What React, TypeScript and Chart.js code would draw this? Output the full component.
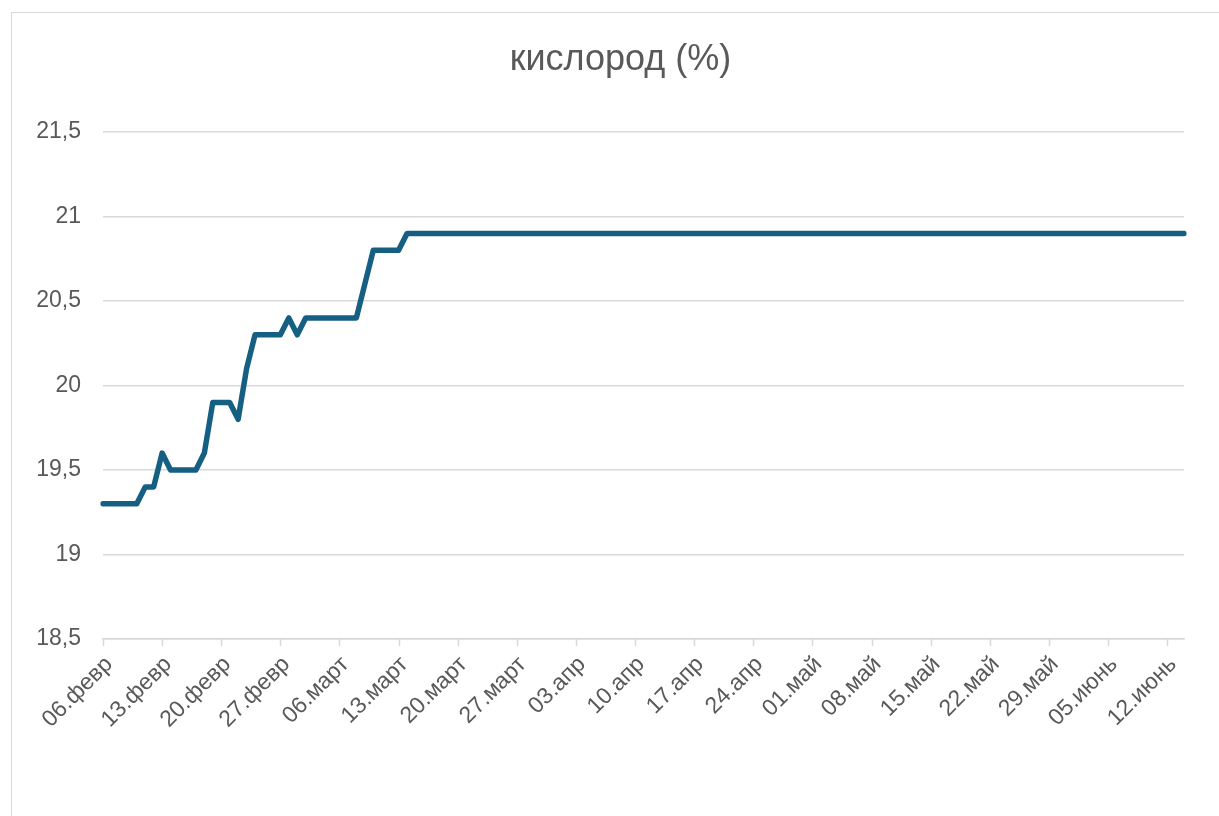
import React, { useEffect, useRef } from 'react';
import { Chart, registerables } from 'chart.js';

Chart.register(...registerables);

const TITLE = 'кислород (%)';
const MONTHS = ['февр', 'март', 'апр', 'май', 'июнь'];
const MONTH_LENGTHS = [28, 31, 30, 31, 30];
const START_DAY = 6;
const TICK_EVERY = 7;
const Y_MIN = 18.5;
const Y_MAX = 21.5;
const Y_STEP = 0.5;

const OXYGEN = [
  19.3, 19.3, 19.3, 19.3, 19.3, 19.4, 19.4, 19.6, 19.5, 19.5,
  19.5, 19.5, 19.6, 19.9, 19.9, 19.9, 19.8, 20.1, 20.3, 20.3,
  20.3, 20.3, 20.4, 20.3, 20.4, 20.4, 20.4, 20.4, 20.4, 20.4,
  20.4, 20.6, 20.8, 20.8, 20.8, 20.8, 20.9, 20.9, 20.9, 20.9,
  20.9, 20.9, 20.9, 20.9, 20.9, 20.9, 20.9, 20.9, 20.9, 20.9,
  20.9, 20.9, 20.9, 20.9, 20.9, 20.9, 20.9, 20.9, 20.9, 20.9,
  20.9, 20.9, 20.9, 20.9, 20.9, 20.9, 20.9, 20.9, 20.9, 20.9,
  20.9, 20.9, 20.9, 20.9, 20.9, 20.9, 20.9, 20.9, 20.9, 20.9,
  20.9, 20.9, 20.9, 20.9, 20.9, 20.9, 20.9, 20.9, 20.9, 20.9,
  20.9, 20.9, 20.9, 20.9, 20.9, 20.9, 20.9, 20.9, 20.9, 20.9,
  20.9, 20.9, 20.9, 20.9, 20.9, 20.9, 20.9, 20.9, 20.9, 20.9,
  20.9, 20.9, 20.9, 20.9, 20.9, 20.9, 20.9, 20.9, 20.9, 20.9,
  20.9, 20.9, 20.9, 20.9, 20.9, 20.9, 20.9, 20.9, 20.9,
];

function buildDateLabels(count: number): string[] {
  const out: string[] = [];
  let m = 0;
  let d = START_DAY;
  for (let i = 0; i < count; i++) {
    out.push(String(d).padStart(2, '0') + '.' + MONTHS[m]);
    d++;
    if (d > MONTH_LENGTHS[m]) {
      d = 1;
      m++;
    }
  }
  return out;
}

const DATES = buildDateLabels(OXYGEN.length);

const FONT = "'Liberation Sans', Arial, sans-serif";
const TEXT = '#595959';
const GRID = '#d9d9d9';
const LINE = '#156082';

const weeklyTickMarks = {
  id: 'weeklyTickMarks',
  afterDraw(chart: any) {
    const x = chart.scales.x;
    const ctx = chart.ctx;
    const y0 = chart.chartArea.bottom;
    ctx.save();
    ctx.strokeStyle = GRID;
    ctx.lineWidth = 1.5;
    for (let i = 0; i < DATES.length; i += TICK_EVERY) {
      const px = Math.round(x.getPixelForValue(i)) + 0.5;
      ctx.beginPath();
      ctx.moveTo(px, y0);
      ctx.lineTo(px, y0 + 7);
      ctx.stroke();
    }
    ctx.restore();
  },
};

const boxTitle = {
  id: 'boxTitle',
  afterDraw(chart: any) {
    const ctx = chart.ctx;
    ctx.save();
    ctx.fillStyle = TEXT;
    ctx.font = '36px ' + FONT;
    ctx.textAlign = 'center';
    ctx.textBaseline = 'middle';
    ctx.fillText(TITLE, chart.width / 2, 47);
    ctx.restore();
  },
};

export default function App() {
  const ref = useRef<HTMLCanvasElement | null>(null);

  useEffect(() => {
    if (!ref.current) return;
    const chart = new Chart(ref.current, {
      type: 'line',
      data: {
        labels: DATES,
        datasets: [
          {
            data: OXYGEN,
            borderColor: LINE,
            borderWidth: 5.5,
            borderCapStyle: 'round',
            borderJoinStyle: 'round',
            pointRadius: 0,
            tension: 0,
            fill: false,
          },
        ],
      },
      plugins: [weeklyTickMarks, boxTitle],
      options: {
        animation: false,
        responsive: false,
        maintainAspectRatio: false,
        layout: { padding: { left: 0, right: 45, top: 119, bottom: 0 } },
        plugins: {
          legend: { display: false },
          tooltip: { enabled: false },
          title: { display: false },
        },
        scales: {
          x: {
            type: 'category',
            offset: false,
            grid: { display: false, drawTicks: false },
            border: { display: true, color: GRID, width: 1.5 },
            ticks: {
              autoSkip: false,
              minRotation: 45,
              maxRotation: 45,
              padding: 12,
              labelOffset: 6,
              color: TEXT,
              font: { family: FONT, size: 23 },
              callback: (_v: any, i: number) => (i % TICK_EVERY === 0 ? DATES[i] : null),
            },
            afterFit: (scale: any) => {
              scale.height = 177;
            },
          },
          y: {
            min: Y_MIN,
            max: Y_MAX,
            grid: { color: GRID, lineWidth: 1.5, drawTicks: false },
            border: { display: false },
            ticks: {
              stepSize: Y_STEP,
              padding: 22,
              color: TEXT,
              font: { family: FONT, size: 23 },
              callback: (v: any) => String(Number(v)).replace('.', ','),
            },
            afterFit: (scale: any) => {
              scale.width = 91;
            },
          },
        },
      },
    });
    return () => chart.destroy();
  }, []);

  return (
    <div
      style={{
        position: 'fixed',
        left: 0,
        top: 0,
        width: 1219,
        height: 816,
        overflow: 'hidden',
        background: '#ffffff',
      }}
    >
      <div
        style={{
          position: 'absolute',
          left: 11,
          top: 12,
          width: 1240,
          height: 840,
          border: '1px solid ' + GRID,
          boxSizing: 'border-box',
        }}
      >
        <canvas ref={ref} width={1217} height={803} style={{ display: 'block' }} />
      </div>
    </div>
  );
}
